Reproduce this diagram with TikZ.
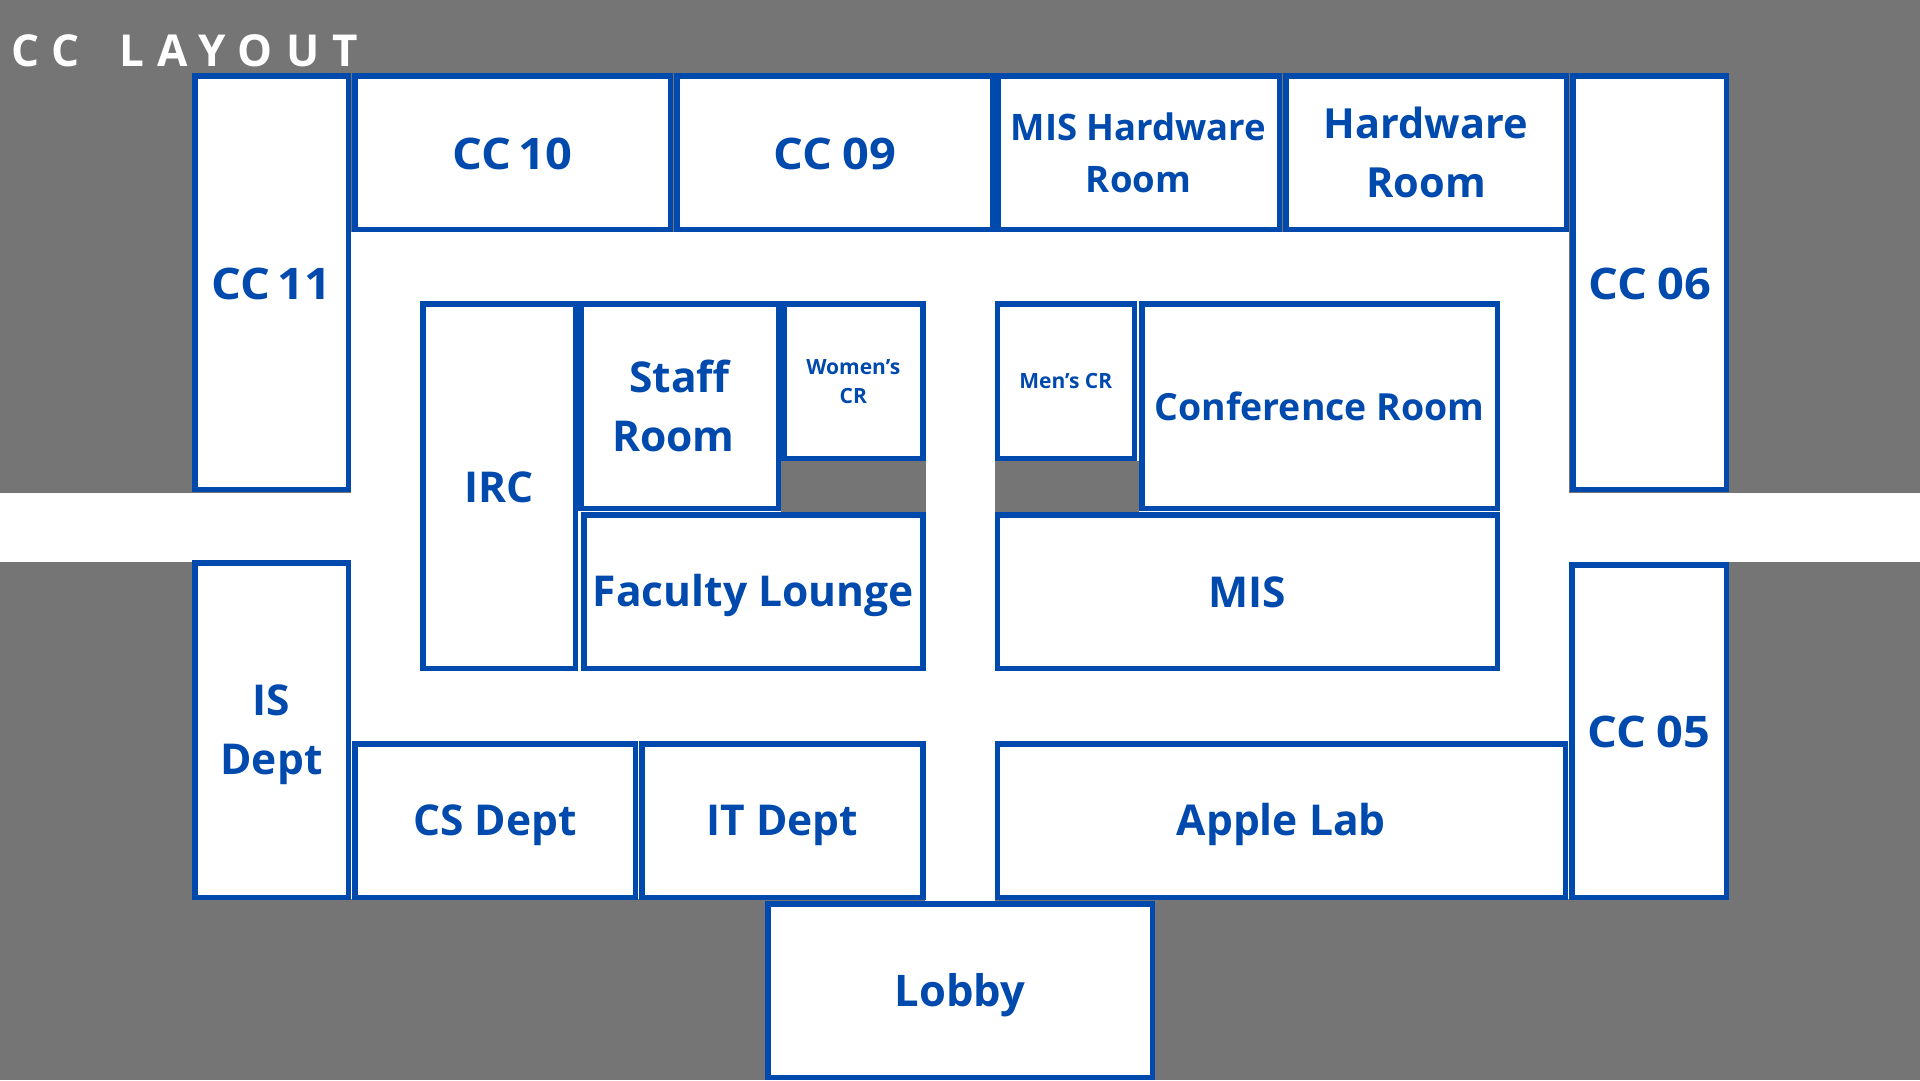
\documentclass[tikz,border=0pt]{standalone}
\usepackage{fontspec}
\setmainfont{Open Sans}
\newfontfamily\titlefont[LetterSpace=30]{Open Sans}
\newfontfamily\ccfont[FakeStretch=1.08,WordSpace=0.6]{Open Sans}
\definecolor{bggray}{HTML}{757575}
\definecolor{roomblue}{HTML}{004AAD}
\tikzset{
  room/.style={draw=roomblue,fill=white,line width=5.5pt,inner sep=0pt,align=center,text=roomblue,font=\bfseries},
  fcc/.style={font=\ccfont\fontsize{43.5}{59}\bfseries\selectfont},
  fxl/.style={font=\fontsize{42.5}{59}\bfseries\selectfont},
  fh/.style={font=\fontsize{41.5}{59}\bfseries\selectfont},
  fl/.style={font=\fontsize{37.4}{53}\bfseries\selectfont},
  fm/.style={font=\fontsize{36.5}{52}\bfseries\selectfont},
  fb/.style={font=\fontsize{43.5}{59}\bfseries\selectfont},
  fs/.style={font=\fontsize{21}{29}\bfseries\selectfont},
}
\newcommand{\capst}{\rule[-.2em]{0pt}{1.16em}}
\newcommand{\room}[7]{%
  \node[room,#6,minimum width={(#4-#2-5.5)*1pt},minimum height={(#5-#3-5.5)*1pt}] (#1) at ({(#2+#4)/2},{(#3+#5)/2}) {\capst #7\capst};}
\begin{document}
\begin{tikzpicture}[x=1pt,y=-1pt]
\fill[bggray] (0,0) rectangle (1920,1080);
\useasboundingbox (0,0) rectangle (1920,1080);
\fill[white] (351,232) rectangle (1569,899);
\fill[white] (925,880) rectangle (995,902);
\fill[white] (0,493) rectangle (1920,562);
\fill[bggray] (781,461) rectangle (925.5,512);
\fill[bggray] (994.5,461) rectangle (1139,512);
\node[anchor=west,inner sep=0pt,text=white,font=\titlefont\fontsize{44}{50}\bfseries\selectfont] (title) at (11,50.5) {CC\hspace{.9em}LAYOUT};
\room{cc11}{192}{73}{351}{492}{fcc}{CC 11}
\room{cc10}{352}{73}{673}{232}{fcc}{CC 10}
\room{cc09}{674}{73}{995}{232}{fcc}{CC\hspace{3pt} 09}
\room{mishw}{995}{73}{1282}{232}{fm}{MIS Hardware\\Room}
\room{hw}{1283}{73}{1569}{232}{fh}{Hardware\\Room}
\room{cc06}{1570}{73}{1729}{492}{fcc}{CC\hspace{3pt} 06}
\room{irc}{420}{301}{578}{671}{fxl}{IRC}
\room{staff}{578}{301}{781}{511}{fxl}{Staff\\Room\hspace*{12pt}}
\room{wcr}{781}{301}{925.5}{461}{fs}{Women’s\\CR}
\room{mcr}{994.5}{301}{1137}{461}{fs}{Men’s CR}
\room{conf}{1139}{301}{1500}{511}{fl}{Conference Room}
\room{fac}{581}{512}{925.5}{671}{fxl}{Faculty Lounge}
\room{mis}{994.5}{512}{1500}{671}{fxl}{MIS}
\room{isd}{192}{560}{351}{900}{fxl}{IS\\Dept}
\room{csd}{352}{741}{638}{900}{fxl}{CS Dept}
\room{itd}{639}{741}{925.5}{900}{fxl}{IT Dept}
\room{apple}{994.5}{741}{1568}{900}{fxl}{Apple Lab}
\room{cc05}{1569}{562}{1729}{900}{fcc}{CC\hspace{3pt} 05}
\room{lobby}{765}{901}{1155}{1080}{fb}{Lobby}
\end{tikzpicture}
\end{document}
